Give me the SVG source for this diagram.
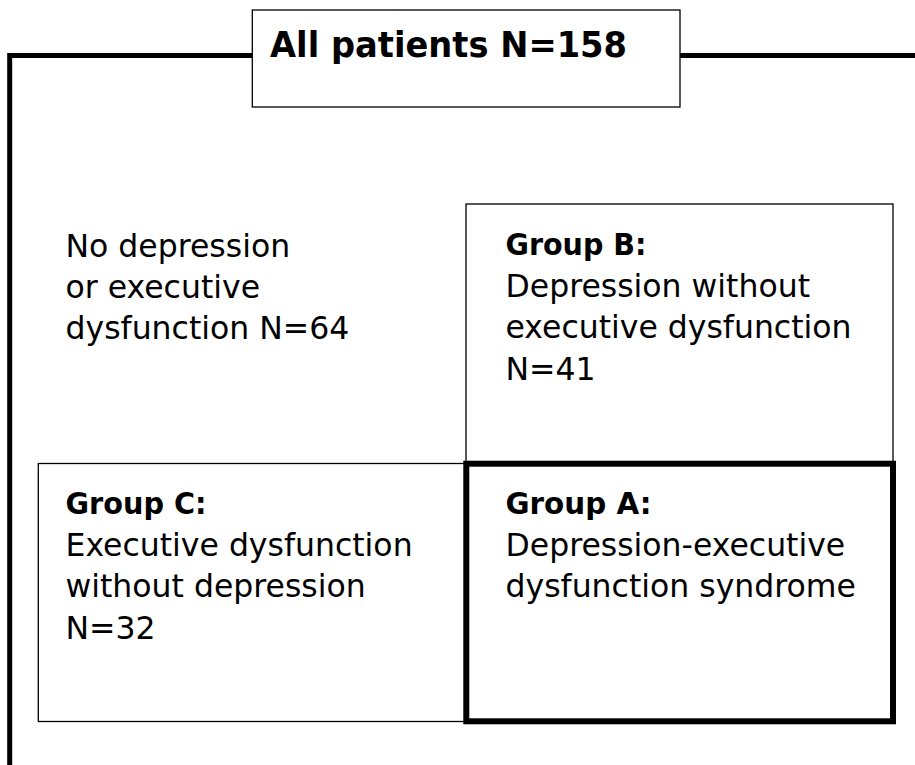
<svg xmlns="http://www.w3.org/2000/svg" width="915" height="765" viewBox="0 0 915 765">
<style>
.bg{fill:#fff}
.thin{fill:#fff;stroke:#000;stroke-width:1.3}
.thick{fill:#fff;stroke:#000;stroke-width:6}
.frame{fill:none;stroke:#000;stroke-width:5}
text{font-family:"Comic Sans MS","DejaVu Sans",sans-serif;fill:#000}
.t{font-size:31.5px}
.b{font-size:30.5px;font-weight:bold}
.title{font-size:35.5px;font-weight:bold}
</style>
<rect class="bg" x="0" y="0" width="915" height="765"/>
<g id="connectors">
<path class="frame" d="M252 55.5 H9.7 V765"/>
<path class="frame" d="M680 55.5 H915"/>
</g>
<g id="all-patients">
<rect class="thin" x="252.3" y="10" width="427.7" height="97"/>
<text class="title" x="270" y="57" textLength="357" lengthAdjust="spacingAndGlyphs">All patients N=158</text>
</g>
<g id="no-depression">
<text class="t" x="65.5" y="257">No depression</text>
<text class="t" x="65.5" y="298">or executive</text>
<text class="t" x="65.5" y="339">dysfunction N=64</text>
</g>
<g id="group-b">
<rect class="thin" x="466" y="204" width="427" height="260"/>
<text class="b" x="505.5" y="255" textLength="141" lengthAdjust="spacingAndGlyphs">Group B:</text>
<text class="t" x="505.5" y="297">Depression without</text>
<text class="t" x="505.5" y="338">executive dysfunction</text>
<text class="t" x="505.5" y="380">N=41</text>
</g>
<g id="group-c">
<rect class="thin" x="38.3" y="463.5" width="428" height="258"/>
<text class="b" x="65.5" y="514" textLength="141" lengthAdjust="spacingAndGlyphs">Group C:</text>
<text class="t" x="65.5" y="556">Executive dysfunction</text>
<text class="t" x="65.5" y="597">without depression</text>
<text class="t" x="65.5" y="639">N=32</text>
</g>
<g id="group-a">
<rect class="thick" x="466.3" y="463.7" width="426.7" height="257.6"/>
<text class="b" x="505.5" y="514" textLength="146" lengthAdjust="spacingAndGlyphs">Group A:</text>
<text class="t" x="505.5" y="556">Depression-executive</text>
<text class="t" x="505.5" y="597">dysfunction syndrome</text>
</g>
</svg>
